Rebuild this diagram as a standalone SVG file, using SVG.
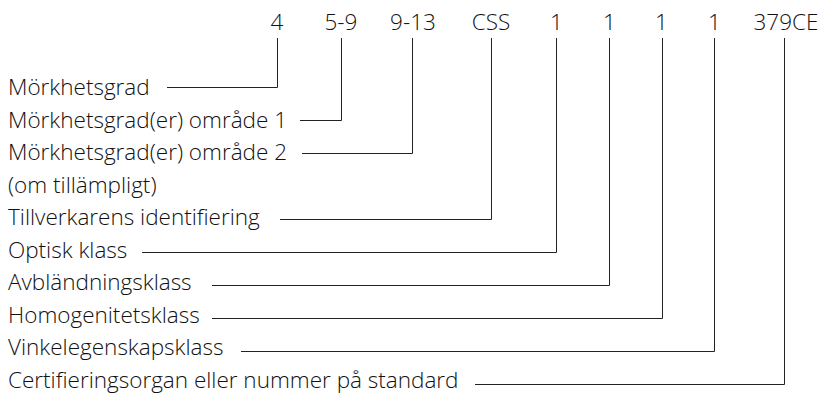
<svg xmlns="http://www.w3.org/2000/svg" width="820" height="394" viewBox="0 0 820 394">
  <style>
    text { font-family: "Open Sans", "Liberation Sans", sans-serif; font-size: 22.5px; font-weight: 300; fill: #111; }
    .code { text-anchor: middle; }
    .lead { fill: none; stroke: #222; stroke-width: 1; }
  </style>
  <rect width="820" height="394" fill="#fff"/>

  <!-- marking codes along the top -->
  <g id="codes">
    <text class="code" x="277" y="30">4</text>
    <text class="code" x="341" y="30">5-9</text>
    <text class="code" x="413" y="30">9-13</text>
    <text class="code" x="491" y="30">CSS</text>
    <text class="code" x="556.5" y="30">1</text>
    <text class="code" x="609.5" y="30">1</text>
    <text class="code" x="661.5" y="30">1</text>
    <text class="code" x="714.5" y="30">1</text>
    <text class="code" x="786" y="30">379CE</text>
  </g>

  <!-- explanations on the left -->
  <g id="shade-number"><text x="8" y="95">Mörkhetsgrad</text></g>
  <g id="shade-range-1"><text x="8" y="127.5">Mörkhetsgrad(er) område 1</text></g>
  <g id="shade-range-2">
    <text x="8" y="160">Mörkhetsgrad(er) område 2</text>
    <text x="8" y="192.5">(om tillämpligt)</text>
  </g>
  <g id="manufacturer"><text x="8" y="225">Tillverkarens identifiering</text></g>
  <g id="optical-class"><text x="8" y="257.5">Optisk klass</text></g>
  <g id="diffusion-class"><text x="8" y="290">Avbländningsklass</text></g>
  <g id="homogeneity-class"><text x="8" y="322.5">Homogenitetsklass</text></g>
  <g id="angle-class"><text x="8" y="355">Vinkelegenskapsklass</text></g>
  <g id="certification"><text x="8" y="387.5">Certifieringsorgan eller nummer på standard</text></g>

  <!-- leader lines from each explanation up to its code -->
  <g id="connectors" class="lead">
    <polyline class="lead" points="167,87.5 277.5,87.5 277.5,38"/>
    <polyline class="lead" points="300,120.5 341.5,120.5 341.5,38"/>
    <polyline class="lead" points="302,153.5 412.5,153.5 412.5,38"/>
    <polyline class="lead" points="280,219.5 491.5,219.5 491.5,38"/>
    <polyline class="lead" points="142,252.5 556.5,252.5 556.5,38"/>
    <polyline class="lead" points="212,285.5 609.5,285.5 609.5,38"/>
    <polyline class="lead" points="212,318.5 662.5,318.5 662.5,38"/>
    <polyline class="lead" points="241,351.5 714.5,351.5 714.5,38"/>
    <polyline class="lead" points="475,384.5 784.5,384.5 784.5,38"/>
  </g>
</svg>
